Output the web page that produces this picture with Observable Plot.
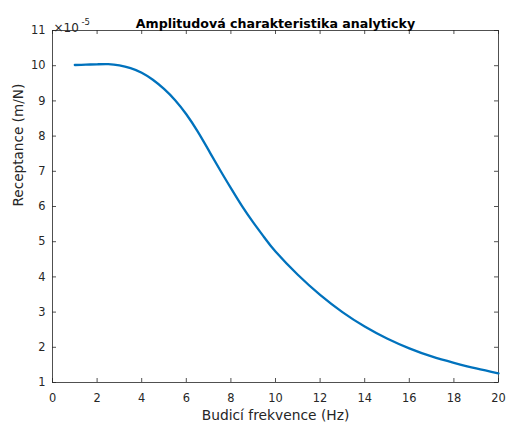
<!DOCTYPE html>
<html><head><meta charset="utf-8">
<script src="https://cdn.jsdelivr.net/npm/d3@7"></script>
<script src="https://cdn.jsdelivr.net/npm/@observablehq/plot@0.6"></script>
<style>body{margin:0;background:#fff} svg{display:block}</style>
</head><body><div id="chart"></div>
<script>
// Data (receptance in units of 1e-5 m/N)
const freq = [1,1.5,2,2.5,3,3.5,4,4.5,5,5.5,6,6.5,7,7.5,8,8.5,9,9.5,10,11,12,13,14,15,16,17,18,19,20];
const receptance = [10.02,10.03,10.04,10.045,10.01,9.93,9.80,9.60,9.34,9.02,8.62,8.14,7.60,7.05,6.52,6.01,5.55,5.12,4.72,4.06,3.49,3.00,2.59,2.25,1.97,1.74,1.56,1.40,1.26];
const xTicks = [0,2,4,6,8,10,12,14,16,18,20];
const yTicks = [1,2,3,4,5,6,7,8,9,10,11];
const title = "Amplitudová charakteristika analyticky";
const xLabel = "Budicí frekvence (Hz)";
const yLabel = "Receptance (m/N)";
const expBase = "×10";
const expPower = "-5";

const data = freq.map((f, i) => ({f, r: receptance[i]}));
const W = 507, H = 423, mt = 30, mr = 9, mb = 41, ml = 52;
const fh = H - mt - mb;
const fw = W - ml - mr;
const axisColor = "#262626";
const font = "'DejaVu Sans', 'Liberation Sans', Arial, sans-serif";

const chart = Plot.plot({
  width: W, height: H,
  marginTop: mt, marginRight: mr, marginBottom: mb, marginLeft: ml,
  style: {fontFamily: font, fontSize: "11.4px", color: axisColor, background: "#fff"},
  x: {domain: [0, 20], ticks: xTicks},
  y: {domain: [1, 11], ticks: yTicks},
  marks: [
    Plot.axisX(xTicks, {tickSize: 0, tickPadding: 11, label: null, fill: axisColor, fontSize: 11.4}),
    Plot.axisY(yTicks, {tickSize: 0, tickPadding: 7, label: null, fill: axisColor, fontSize: 11.4}),
    // inward ticks on all four sides
    Plot.tickX(xTicks, {x: d => d, insetTop: fh - 4, stroke: axisColor, strokeWidth: 0.8}),
    Plot.tickX(xTicks, {x: d => d, insetBottom: fh - 4, stroke: axisColor, strokeWidth: 0.8}),
    Plot.tickY(yTicks, {y: d => d, insetRight: fw - 4, stroke: axisColor, strokeWidth: 0.8}),
    Plot.tickY(yTicks, {y: d => d, insetLeft: fw - 4, stroke: axisColor, strokeWidth: 0.8}),
    Plot.frame({stroke: axisColor, strokeWidth: 0.8}),
    Plot.line(data, {x: "f", y: "r", stroke: "#0072BD", strokeWidth: 2.3, curve: "natural"}),
    Plot.text([title], {frameAnchor: "top", text: d => d, dy: -11, fontWeight: "bold", fontSize: 12.6, fill: "#000"}),
    Plot.text([xLabel], {frameAnchor: "bottom", text: d => d, dy: 37, fontSize: 13.8, fill: axisColor}),
    Plot.text([yLabel], {frameAnchor: "left", text: d => d, dx: -34, rotate: -90, fontSize: 13.6, fill: axisColor}),
    Plot.text([expBase], {frameAnchor: "top-left", text: d => d, textAnchor: "start", dx: 1, dy: -7, fontSize: 12, fill: axisColor}),
    Plot.text([expPower], {frameAnchor: "top-left", text: d => d, textAnchor: "start", dx: 29, dy: -12, fontSize: 8.5, fill: axisColor})
  ]
});
document.getElementById("chart").appendChild(chart);
</script></body></html>
